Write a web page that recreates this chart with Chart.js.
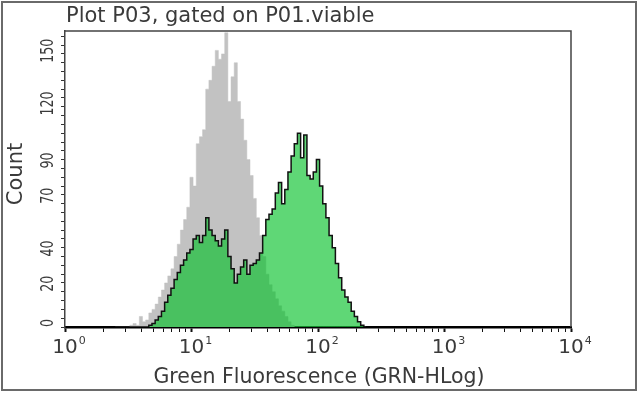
<!DOCTYPE html>
<html><head><meta charset="utf-8">
<script src="https://cdn.jsdelivr.net/npm/chart.js@4/dist/chart.umd.min.js"></script>
<style>html,body{margin:0;padding:0;background:#fff}#wrap{width:640px;height:394px;position:relative}</style>
</head><body><div id="wrap"><canvas id="c" width="640" height="394"></canvas></div>
<script>
// log10 channel centres of histogram bins
const logBins = [0.400,0.425,0.450,0.475,0.500,0.525,0.550,0.575,0.600,0.625,
  0.650,0.675,0.700,0.725,0.750,0.775,0.800,0.825,0.850,0.875,
  0.900,0.925,0.950,0.975,1.000,1.025,1.050,1.075,1.100,1.125,
  1.150,1.175,1.200,1.225,1.250,1.275,1.300,1.325,1.350,1.375,
  1.400,1.425,1.450,1.475,1.500,1.525,1.550,1.575,1.600,1.625,
  1.650,1.675,1.700,1.725,1.750,1.775,1.800,1.825,1.850,1.875,
  1.900,1.925,1.950,1.975,2.000,2.025,2.050,2.075,2.100,2.125,
  2.150,2.175,2.200,2.225,2.250,2.275,2.300,2.325,2.350,2.375];
const grayCounts = [0,0,0,0,0,1,2,1,6,3,
  4,8,10,13,17,21,25,29,33,40,
  47,55,61,68,85,80,104,108,112,135,
  140,148,157,152,155,167,128,142,150,128,
  118,106,95,86,73,62,52,40,30,24,
  20,16,12,9,6,3,1,0,0,0,
  0,0,0,0,0,0,0,0,0,0,
  0,0,0,0,0,0,0,0,0,0];
const greenCounts = [0,0,0,0,0,0,0,0,0,0,
  0,1,2,4,6,9,14,18,22,27,
  31,35,38,42,44,50,52,48,52,62,
  55,52,49,46,50,55,40,33,25,30,
  34,38,30,35,36,38,42,52,61,64,
  67,76,82,70,78,88,97,104,110,96,
  109,86,84,88,95,80,70,62,52,45,
  36,28,21,17,14,9,6,3,1,0];
const xTickExponents = [0,1,2,3,4];
const yTickLabels = [0,20,40,70,90,120,150];
const yMinorStep = 5;
const yMax = 168;
const titleText = 'Plot P03, gated on P01.viable';
const xTitleText = 'Green Fluorescence (GRN-HLog)';
const yTitleText = 'Count';

const FONT = '"DejaVu Sans", Verdana, sans-serif';
const TXT = '#3a3a3a';

const toPts = arr => logBins.map((L,i)=>({x: Math.pow(10,L), y: arr[i]}));

const decor = {
  id:'decor',
  afterDraw(chart){
    const ctx = chart.ctx, a = chart.chartArea;
    const xs = chart.scales.x, ys = chart.scales.y;
    ctx.save();
    // outer frame
    ctx.strokeStyle = '#6a6a6a'; ctx.lineWidth = 2;
    ctx.strokeRect(2, 2, 634, 388);
    // plot frame top/right
    ctx.strokeStyle = '#444'; ctx.lineWidth = 1.5;
    ctx.beginPath();
    ctx.moveTo(a.left, a.top); ctx.lineTo(a.right, a.top); ctx.lineTo(a.right, a.bottom);
    ctx.stroke();
    // title
    ctx.fillStyle = TXT;
    ctx.font = '21px ' + FONT; ctx.textAlign = 'left'; ctx.textBaseline = 'middle';
    ctx.fillText(titleText, 66, 17);
    // x title
    ctx.font = '20.5px ' + FONT; ctx.textAlign = 'center';
    ctx.fillText(xTitleText, 319, 378);
    // x tick labels
    xTickExponents.forEach(e=>{
      const px = xs.getPixelForValue(Math.pow(10,e));
      ctx.font = '20px ' + FONT; ctx.textAlign = 'center'; ctx.textBaseline = 'middle';
      ctx.fillText('10', px, 348);
      const w = ctx.measureText('10').width;
      ctx.font = '11px ' + FONT; ctx.textAlign = 'left';
      ctx.fillText(String(e), px + w/2 + 1, 341);
    });
    // y tick labels (rotated)
    yTickLabels.forEach(v=>{
      const py = ys.getPixelForValue(v);
      ctx.save();
      ctx.translate(48, py);
      ctx.rotate(-Math.PI/2);
      ctx.scale(0.7, 1);
      ctx.font = '18px ' + FONT; ctx.textAlign = 'left'; ctx.textBaseline = 'middle';
      ctx.fillText(String(v), 0, 0);
      ctx.restore();
    });
    // y title
    ctx.save();
    ctx.translate(17, 174); ctx.rotate(-Math.PI/2);
    ctx.font = '21px ' + FONT; ctx.textAlign = 'center'; ctx.textBaseline = 'middle';
    ctx.fillText(yTitleText, 0, 0);
    ctx.restore();
    ctx.restore();
  }
};

new Chart(document.getElementById('c'), {
  type:'line',
  data:{ datasets:[
    { label:'Stained', data: toPts(greenCounts), stepped:'middle', fill:'origin',
      backgroundColor:'rgba(5,192,40,0.64)', borderColor:'#111', borderWidth:1.5,
      pointRadius:0, tension:0 },
    { label:'Control', data: toPts(grayCounts), stepped:'middle', fill:'origin',
      backgroundColor:'#c2c2c2', borderColor:'#c2c2c2', borderWidth:0.5,
      pointRadius:0, tension:0 }
  ]},
  options:{
    responsive:false, animation:false, devicePixelRatio:1,
    layout:{ padding:{ left:0, top:31, right:69, bottom:0 } },
    plugins:{ legend:{display:false}, tooltip:{enabled:false}, title:{display:false} },
    scales:{
      x:{ type:'logarithmic', min:1, max:10000, position:'bottom',
        afterBuildTicks(s){
          const t=[];
          for(let e=0;e<4;e++){ for(let m=1;m<10;m++){ t.push({value:m*Math.pow(10,e)}); } }
          t.push({value:10000});
          s.ticks=t;
        },
        afterFit(s){ s.height = 67; },
        ticks:{ display:false, autoSkip:false },
        grid:{ drawOnChartArea:false, drawTicks:true, tickLength:5, color:'#111',
          tickWidth:(c)=>{ const v=c.tick&&c.tick.value; const l=Math.log10(v); return Math.abs(l-Math.round(l))<1e-6?2:1; } },
        border:{ display:true, color:'#000', width:2.5 }
      },
      y:{ type:'linear', min:0, max:yMax, position:'left',
        afterBuildTicks(s){
          const t=[]; for(let v=0; v<=yMax; v+=yMinorStep) t.push({value:v}); s.ticks=t;
        },
        afterFit(s){ s.width = 65; },
        ticks:{ display:false, autoSkip:false },
        grid:{ drawOnChartArea:false, drawTicks:true, tickLength:4, color:'#333' },
        border:{ display:true, color:'#444', width:1.5 }
      }
    }
  },
  plugins:[decor]
});
</script>
</body></html>
